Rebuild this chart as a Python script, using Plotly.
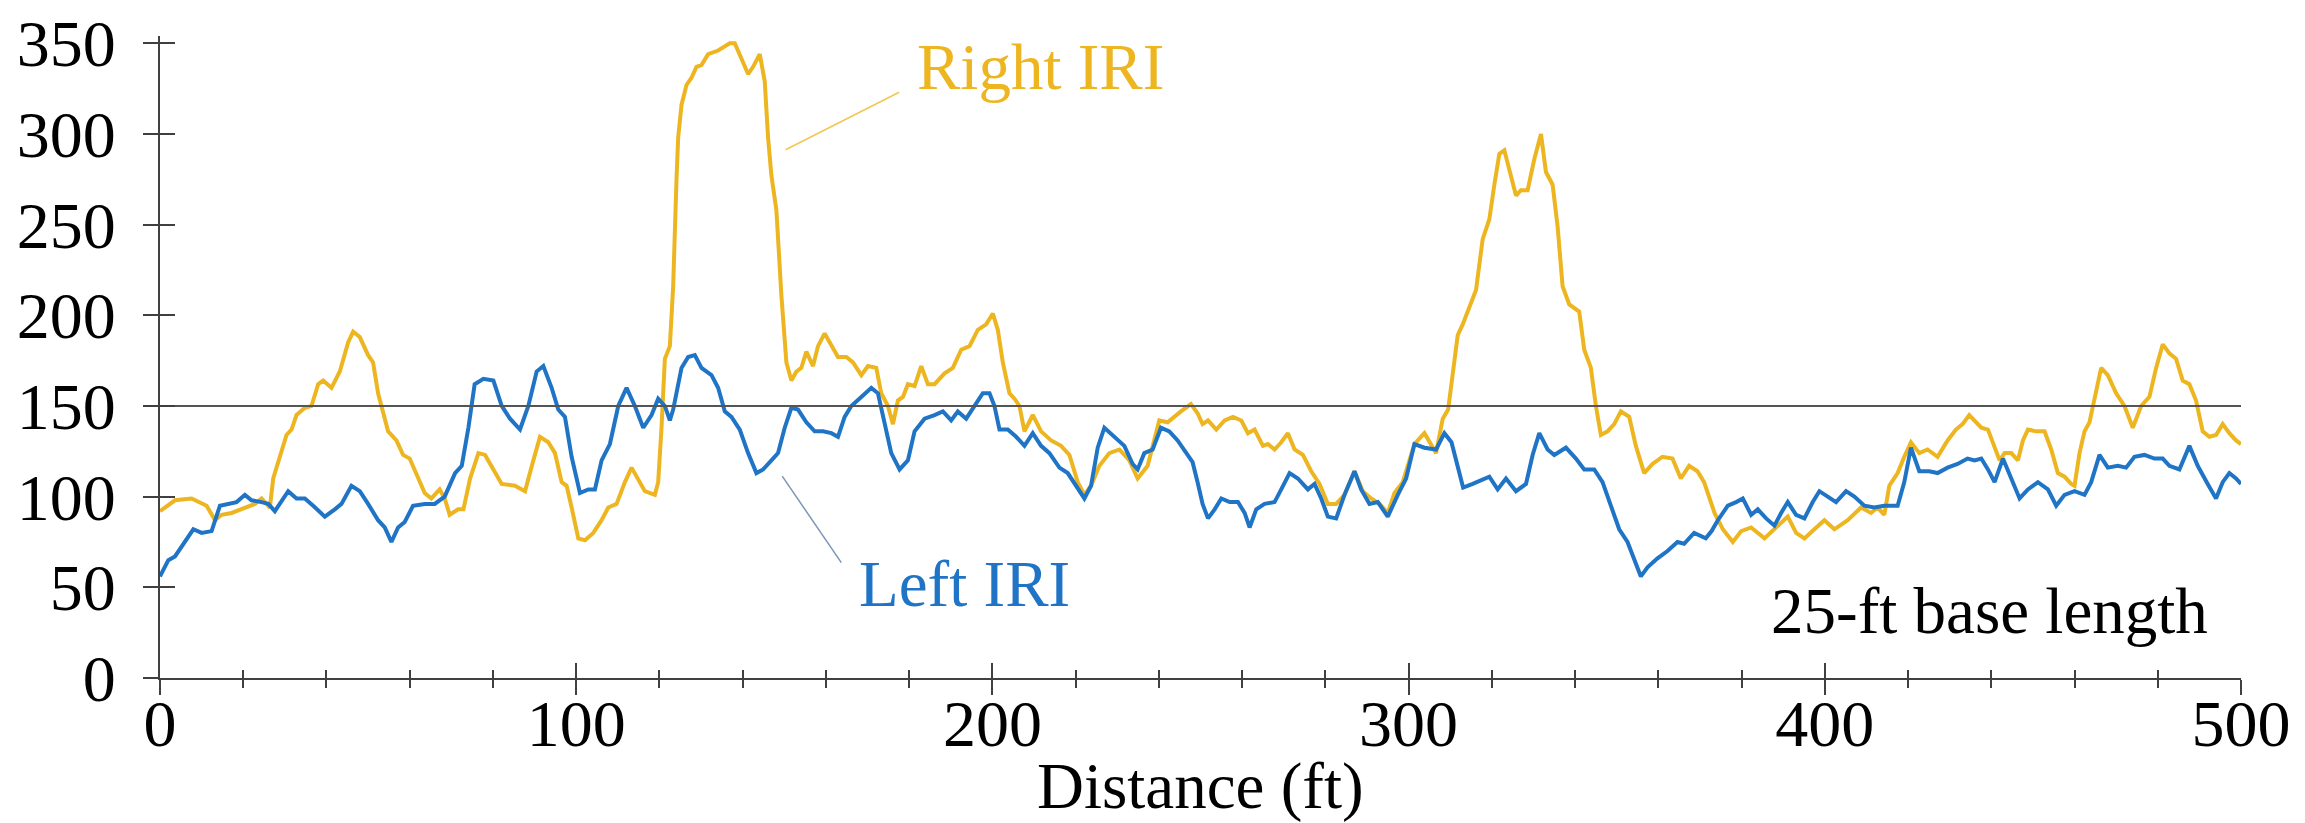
import plotly.graph_objects as go

# ---------------- data ----------------
right_dist = [0, 3.6, 7.6, 11.2, 13.2, 14.8, 17.2, 20.4, 22.8, 24.4, 26.4, 27.2, 28.8, 30.4, 31.6, 32.8, 34.8, 36.4,
              38.0, 39.2, 41.2, 43.2, 45.2, 46.4, 48.0, 50.0, 51.2, 52.4, 53.2, 54.8, 56.8, 58.4, 60.0, 61.6, 63.6,
              65.2, 67.2, 68.4, 69.6, 71.6, 72.9, 74.5, 76.5, 78.1, 80.5, 82.1, 85.3, 87.7, 89.7, 91.3, 93.3, 94.9,
              96.5, 97.7, 98.9, 100.5, 102.1, 104.1, 106.1, 107.7, 109.7, 111.7, 113.3, 114.9, 116.5, 118.9, 119.7,
              120.5, 121.3, 122.5, 123.3, 124.1, 124.5, 125.3, 126.5, 127.7, 128.9, 130.1, 131.7, 134.1, 136.9,
              138.1, 139.3, 141.3, 142.5, 144.1, 145.3, 146.1, 146.9, 148.1, 149.3, 150.5, 151.7, 152.9, 154.1,
              155.3, 156.9, 158.1, 159.7, 161.3, 162.9, 164.9, 166.5, 168.5, 170.1, 172.1, 173.3, 174.9, 176.1,
              177.3, 178.5, 179.7, 181.3, 182.9, 184.5, 186.1, 188.5, 190.5, 192.5, 194.5, 196.5, 198.5, 200.1,
              201.3, 202.5, 204.1, 205.3, 206.5, 207.7, 209.7, 211.7, 214.1, 216.5, 218.5, 220.5, 222.1, 223.7,
              225.7, 228.1, 230.5, 232.9, 234.9, 237.3, 240.1, 242.1, 245.3, 247.7, 249.3, 250.5, 251.8, 253.8,
              255.8, 257.8, 259.8, 261.4, 263.0, 265.0, 266.2, 267.8, 269.4, 271.0, 272.6, 274.6, 276.6, 278.6,
              280.6, 282.6, 284.6, 287.0, 289.0, 291.0, 293.0, 295.0, 296.6, 298.6, 301.4, 303.8, 306.6, 308.2,
              309.5, 310.6, 311.8, 313.0, 314.6, 316.2, 317.8, 319.4, 320.6, 321.8, 323.0, 324.6, 325.8, 327.0,
              328.6, 330.2, 331.8, 333.0, 334.6, 335.8, 337.0, 338.6, 341.0, 342.2, 343.8, 345.0, 346.2, 347.8,
              349.4, 351.0, 353.0, 354.6, 356.6, 358.6, 361.0, 363.4, 365.4, 367.4, 369.4, 371.0, 372.2, 373.5,
              375.5, 377.9, 379.9, 382.3, 385.5, 388.7, 391.1, 393.1, 395.1, 397.5, 399.9, 402.3, 405.5, 408.7,
              411.1, 412.7, 414.3, 415.5, 417.5, 419.1, 420.7, 422.7, 424.7, 427.1, 429.5, 431.5, 433.1, 434.7,
              436.0, 437.6, 439.2, 440.8, 442.0, 443.2, 444.8, 446.4, 447.6, 448.8, 450.8, 452.8, 454.4, 456.0,
              457.6, 459.2, 460.0, 461.2, 462.4, 463.6, 464.8, 466.4, 468.0, 470.0, 472.0, 474.0, 476.0, 478.0,
              479.6, 481.2, 482.8, 484.4, 486.0, 487.6, 489.2, 490.8, 492.4, 494.0, 495.6, 497.2, 498.8, 500.0]
right_iri = [92, 98, 99, 95, 87, 90, 91, 94, 96, 99, 94, 110, 122, 134, 137, 145, 149, 150,
             162, 164, 160, 169, 185, 191, 188, 178, 174, 157, 150, 136, 131, 123, 121, 113, 102,
             99, 104, 99, 90, 93, 93, 110, 124, 123, 113, 107, 106, 103, 120, 133, 130, 124,
             108, 106, 94, 77, 76, 80, 87, 94, 96, 108, 116, 110, 103, 101, 108,
             138, 176, 183, 216, 275, 298, 316, 327, 331, 337, 338, 344, 346, 350,
             350, 344, 333, 337, 344, 329, 298, 277, 258, 211, 174, 164, 169, 171,
             180, 172, 183, 190, 184, 177, 177, 174, 167, 172, 171, 157, 150, 140,
             153, 155, 162, 161, 172, 162, 162, 168, 171, 181, 183, 192, 195, 201,
             192, 174, 157, 154, 150, 136, 145, 136, 131, 128, 123, 108, 101, 106,
             117, 124, 126, 120, 110, 117, 142, 141, 147, 151, 146, 140, 142, 137,
             142, 144, 142, 135, 137, 128, 129, 126, 130, 135, 126, 123, 114, 107,
             96, 96, 101, 114, 103, 99, 96, 91, 102, 108, 129, 135, 124, 143,
             148, 169, 189, 195, 204, 214, 242, 253, 272, 289, 291, 277, 266, 269,
             269, 286, 300, 279, 272, 249, 216, 206, 202, 181, 171, 150, 134, 136,
             140, 147, 144, 128, 113, 118, 122, 121, 110, 117, 114, 108, 100, 91,
             82, 75, 81, 83, 77, 84, 89, 80, 77, 82, 87, 82, 87, 94,
             91, 94, 90, 106, 113, 122, 130, 124, 126, 122, 131, 137, 140, 145,
             142, 138, 137, 127, 120, 124, 124, 120, 131, 137, 136, 136, 126, 113,
             111, 107, 106, 124, 136, 141, 155, 171, 167, 157, 150, 138, 150, 155,
             171, 184, 179, 176, 164, 162, 153, 136, 133, 134, 140, 135, 131, 129]

left_dist = [0, 2.0, 3.6, 6.0, 8.0, 10.0, 12.4, 14.4, 16.4, 18.4, 20.4, 22.0, 24.4, 26.0, 27.6, 30.8, 32.8, 34.8,
             36.8, 39.6, 42.0, 43.6, 46.0, 48.0, 50.0, 52.4, 54.0, 55.6, 57.2, 58.8, 60.8, 63.6, 66.0, 68.4, 70.9,
             72.5, 74.1, 75.6, 77.7, 80.1, 82.1, 84.1, 86.5, 88.5, 90.5, 92.1, 94.1, 95.7, 97.3, 98.9, 100.9,
             102.9, 104.5, 106.1, 108.1, 110.1, 112.1, 114.1, 116.1, 118.1, 119.7, 121.3, 122.5, 123.3, 125.3,
             126.9, 128.5, 130.1, 132.5, 134.1, 135.7, 137.3, 139.3, 141.3, 143.3, 144.9, 146.9, 148.5, 150.1,
             151.7, 153.3, 155.3, 157.3, 159.3, 161.3, 162.9, 164.5, 166.1, 168.5, 170.9, 172.5, 174.1, 175.7,
             177.7, 179.7, 181.3, 183.7, 186.1, 188.1, 190.1, 191.7, 193.7, 195.7, 197.7, 199.3, 200.5, 201.7,
             203.7, 205.7, 207.7, 209.7, 211.7, 213.7, 216.1, 218.1, 220.1, 222.1, 223.7, 225.3, 226.9, 229.3,
             231.7, 233.7, 234.9, 236.5, 238.5, 240.5, 242.5, 244.5, 246.5, 248.1, 249.3, 250.5, 251.8, 253.4,
             255.0, 257.0, 259.0, 260.6, 261.8, 263.4, 265.4, 267.8, 269.4, 271.4, 273.4, 275.8, 277.4, 279.0,
             280.6, 282.6, 284.6, 287.0, 288.6, 290.6, 292.6, 295.0, 297.4, 299.4, 301.4, 303.8, 306.6, 308.6,
             310.3, 311.9, 313.1, 315.4, 317.4, 319.4, 321.4, 323.4, 325.8, 328.2, 329.8, 331.4, 333.4, 335.0,
             337.8, 340.2, 342.2, 344.6, 346.6, 348.6, 350.6, 352.6, 354.2, 355.8, 357.4, 359.8, 362.2, 364.6,
             366.2, 368.6, 371.4, 372.8, 374.3, 376.7, 378.7, 380.3, 382.3, 383.9, 385.9, 387.9, 389.5, 391.1,
             393.1, 395.1, 397.1, 398.7, 400.7, 402.7, 405.1, 407.1, 409.5, 411.9, 414.3, 417.5, 419.1, 420.7,
             422.7, 425.1, 427.1, 429.5, 431.9, 434.3, 436.0, 437.6, 439.2, 440.8, 442.8, 444.8, 446.8, 448.8,
             451.2, 453.6, 455.6, 457.6, 460.0, 462.4, 464.0, 466.0, 468.0, 470.4, 472.4, 474.4, 476.8, 479.2,
             481.2, 482.8, 485.2, 487.6, 489.6, 492.0, 494.0, 495.6, 497.2, 498.8, 500.0]
left_iri = [56, 65, 67, 75, 82, 80, 81, 95, 96, 97, 101, 98, 97, 96, 92, 103, 99, 99,
            95, 89, 93, 96, 106, 103, 96, 87, 83, 75, 83, 86, 95, 96, 96, 100, 113,
            117, 138, 162, 165, 164, 150, 143, 137, 150, 169, 172, 160, 148, 144, 122, 102,
            104, 104, 120, 129, 150, 160, 150, 138, 145, 154, 150, 142, 148, 171,
            177, 178, 171, 167, 160, 147, 144, 137, 124, 113, 115, 120, 124, 138,
            149, 148, 141, 136, 136, 135, 133, 144, 150, 155, 160, 157, 141, 124,
            115, 120, 136, 143, 145, 147, 142, 147, 143, 150, 157, 157, 150, 137,
            137, 133, 128, 135, 128, 124, 116, 113, 106, 99, 106, 127, 138, 133,
            128, 118, 115, 124, 126, 138, 136, 131, 124, 119, 108, 96, 88, 93,
            99, 97, 97, 91, 83, 93, 96, 97, 104, 113, 110, 104, 107, 99,
            89, 88, 101, 114, 104, 96, 97, 89, 101, 110, 129, 127, 126, 135,
            130, 116, 105, 107, 109, 111, 104, 110, 103, 107, 123, 135, 126, 123,
            127, 121, 115, 115, 108, 95, 82, 75, 66, 56, 61, 66, 70, 75,
            74, 80, 77, 81, 87, 95, 97, 99, 90, 93, 88, 84, 91, 97,
            90, 88, 97, 103, 100, 97, 103, 100, 95, 94, 95, 95, 108, 127,
            114, 114, 113, 116, 118, 121, 120, 121, 115, 108, 121, 110, 99, 104,
            108, 104, 95, 101, 103, 101, 108, 123, 116, 117, 116, 122, 123, 121,
            121, 117, 115, 128, 117, 107, 99, 108, 113, 110, 107]

threshold_iri = 150
x_range = [0, 500]
y_range = [0, 354]
x_major, x_minor, y_major = 100, 20, 50
x_title = "Distance (ft)"

# ---------------- styling ----------------
RIGHT_COLOR = "#EDB51F"
LEFT_COLOR = "#1F74C6"
AXIS_COLOR = "#404040"
FONT = "Liberation Serif, Times New Roman, serif"
FS = 65
TFS = 66

fig = go.Figure()
fig.add_trace(go.Scatter(x=right_dist, y=right_iri, mode="lines", name="Right IRI",
                         line=dict(color=RIGHT_COLOR, width=4)))
fig.add_trace(go.Scatter(x=left_dist, y=left_iri, mode="lines", name="Left IRI",
                         line=dict(color=LEFT_COLOR, width=4)))
# threshold line, drawn on the overlaid axes (which carry the inward half of the crossing ticks)
fig.add_trace(go.Scatter(x=x_range, y=[threshold_iri, threshold_iri], mode="lines", name="threshold",
                         xaxis="x2", yaxis="y2", line=dict(color="#555555", width=2),
                         hoverinfo="skip"))

common_tick = dict(tickwidth=2, tickcolor=AXIS_COLOR, showgrid=False, zeroline=False, automargin=False)

fig.update_layout(
    width=2305, height=823,
    margin=dict(l=152, r=72, t=28, b=153),
    plot_bgcolor="white", paper_bgcolor="white",
    showlegend=False,
    font=dict(family=FONT, size=FS, color="black"),
    xaxis=dict(range=x_range, tick0=0, dtick=x_major, ticks="outside", ticklen=15,
               showline=True, linecolor=AXIS_COLOR, linewidth=2,
               minor=dict(tick0=0, dtick=x_minor, ticks="outside", ticklen=8, tickwidth=2,
                          tickcolor=AXIS_COLOR, showgrid=False),
               ticklabelstandoff=-28,
               tickfont=dict(family=FONT, size=TFS, color="black"),
               **common_tick),
    xaxis2=dict(range=x_range, overlaying="x", side="bottom", tick0=0, dtick=x_major,
                ticks="inside", ticklen=15, showticklabels=False, showline=False,
                minor=dict(tick0=0, dtick=x_minor, ticks="inside", ticklen=8, tickwidth=2,
                           tickcolor=AXIS_COLOR, showgrid=False),
                **common_tick),
    yaxis=dict(range=y_range, tick0=0, dtick=y_major, ticks="outside", ticklen=15,
               showline=True, linecolor=AXIS_COLOR, linewidth=2,
               ticklabelstandoff=14, ticklabeloverflow="allow",
               tickfont=dict(family=FONT, size=TFS, color="black"),
               **common_tick),
    yaxis2=dict(range=y_range, overlaying="y", side="left", tick0=0, dtick=y_major,
                ticks="inside", ticklen=15, showticklabels=False, showline=False,
                **common_tick),
)

# x-axis title (as annotation so it can sit at the reference position)
fig.add_annotation(x=0.5, y=0, xref="paper", yref="paper", text=x_title, showarrow=False,
                   xanchor="center", yanchor="middle", yshift=-108,
                   font=dict(family=FONT, size=FS, color="black"))

# series labels with leader lines
fig.add_annotation(x=181.5, y=337, xref="x", yref="y", text="Right IRI", showarrow=False,
                   xanchor="left", yanchor="middle", font=dict(family=FONT, size=FS, color=RIGHT_COLOR))
fig.add_annotation(x=167.5, y=52, xref="x", yref="y", text="Left IRI", showarrow=False,
                   xanchor="left", yanchor="middle", font=dict(family=FONT, size=FS, color=LEFT_COLOR))
fig.add_annotation(x=386.5, y=37, xref="x", yref="y", text="25-ft base length", showarrow=False,
                   xanchor="left", yanchor="middle", font=dict(family=FONT, size=FS, color="black"))
fig.add_shape(type="line", xref="x", yref="y", x0=150.3, y0=291.3, x1=177.6, y1=323,
              line=dict(color="#F0C850", width=1.5))
fig.add_shape(type="line", xref="x", yref="y", x0=149.5, y0=111.3, x1=163.7, y1=63.6,
              line=dict(color="#7C97B4", width=1.5))

fig.write_html("out.html")
